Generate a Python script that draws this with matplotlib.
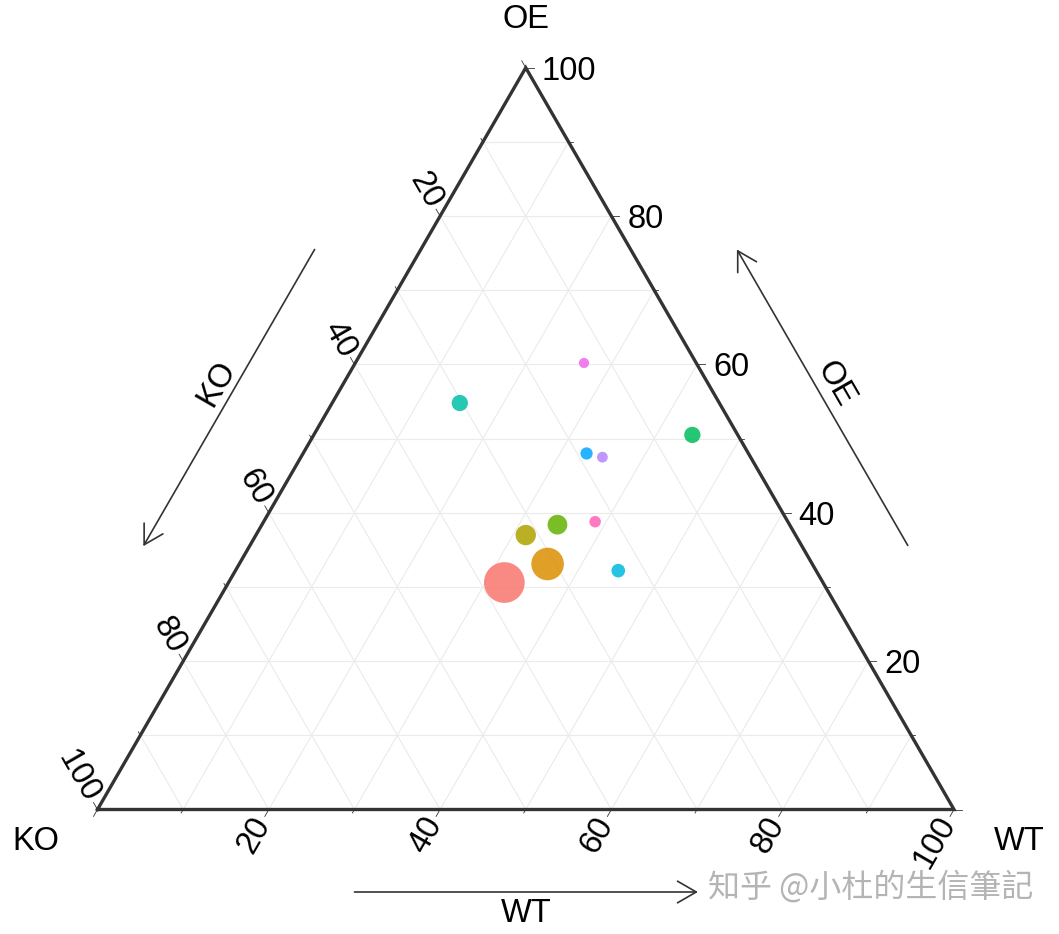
import numpy as np
import matplotlib
matplotlib.use("Agg")
import matplotlib.pyplot as plt

plt.rcParams['font.family'] = ['Liberation Sans', 'DejaVu Sans']

# ---------------- data ----------------
groups = ['G1', 'G2', 'G3', 'G4', 'G5', 'G6', 'G7', 'G8', 'G9', 'G10', 'G11']
wt_vals = [32.2, 36.0, 31.5, 34.5, 44.2, 14.9, 44.7, 33.1, 35.2, 26.7, 38.7]
oe_vals = [30.6, 33.1, 37.0, 38.4, 50.5, 54.8, 32.2, 48.0, 47.5, 60.2, 38.8]
ko_vals = [37.2, 30.9, 31.5, 27.1, 5.3, 30.3, 23.1, 18.9, 17.3, 13.1, 22.5]
abundance = [400, 256, 100, 94, 64, 64, 45, 36, 28, 25, 32]
colors = ['#F8766D', '#DB8E00', '#AEA200', '#64B200', '#00BD5C', '#00C1A7',
          '#00BADE', '#00A6FF', '#B385FF', '#EF67EB', '#FF63B6']
tick_vals = [20, 40, 60, 80, 100]
axis_names = {'left': 'KO', 'right': 'WT', 'top': 'OE'}

# ---------------- geometry ----------------
W, H = 1059, 934
X0, Y0, SCALE = 97.5, 809.5, 856.5   # pixel position of KO vertex and edge length
PX = 1.0 / SCALE
S3 = np.sqrt(3) / 2


def tern(wt, oe, ko):
    wt = np.asarray(wt, float)
    oe = np.asarray(oe, float)
    ko = np.asarray(ko, float)
    tot = wt + oe + ko
    wt, oe = wt / tot, oe / tot
    return wt + oe / 2, oe * S3


fig = plt.figure(figsize=(W / 100, H / 100), dpi=100)
ax = fig.add_axes([0, 0, 1, 1])
ax.set_xlim(-X0 / SCALE, (W - X0) / SCALE)
ax.set_ylim((Y0 - H) / SCALE, Y0 / SCALE)
ax.axis('off')

grid_c = '#EBEBEB'
for v in np.arange(10, 100, 10):
    f = v / 100
    x, y = tern([0, 1 - f], [f, f], [1 - f, 0])
    ax.plot(x, y, color=grid_c, lw=0.8, zorder=1)
    x, y = tern([f, f], [0, 1 - f], [1 - f, 0])
    ax.plot(x, y, color=grid_c, lw=0.8, zorder=1)
    x, y = tern([1 - f, 0], [0, 1 - f], [f, f])
    ax.plot(x, y, color=grid_c, lw=0.8, zorder=1)

# triangle border
bx, by = tern([0, 1, 0, 0], [0, 0, 1, 0], [1, 0, 0, 1])
ax.plot(bx, by, color='#333333', lw=2.4, zorder=3, solid_joinstyle='miter')

# ticks and tick labels
d_wt = np.array([-0.5, -S3])   # down-left
d_oe = np.array([1.0, 0.0])    # right
d_ko = np.array([-0.5, S3])    # up-left
fs = 23.5
for v in range(0, 101, 10):
    f = v / 100
    L = (8 if v % 20 == 0 else 4) * PX
    px_, py_ = tern(f, 0, 1 - f)
    ax.plot([px_, px_ + L * d_wt[0]], [py_, py_ + L * d_wt[1]], color='#333333', lw=0.6, zorder=2)
    qx, qy = tern(1 - f, f, 0)
    ax.plot([qx, qx + L * d_oe[0]], [qy, qy + L * d_oe[1]], color='#333333', lw=0.6, zorder=2)
    rx, ry = tern(0, 1 - f, f)
    ax.plot([rx, rx + L * d_ko[0]], [ry, ry + L * d_ko[1]], color='#333333', lw=0.6, zorder=2)

for v in tick_vals:
    f = v / 100
    px_, py_ = tern(f, 0, 1 - f)
    ax.text(px_ + 11 * PX * d_wt[0], py_ + 11 * PX * d_wt[1], str(v), rotation=60,
            ha='right', va='center', rotation_mode='anchor', fontsize=fs, color='black')
    qx, qy = tern(1 - f, f, 0)
    ax.text(qx + 16 * PX, qy, str(v), ha='left', va='center_baseline', fontsize=fs, color='black')
    rx, ry = tern(0, 1 - f, f)
    ax.text(rx + 11 * PX * d_ko[0], ry + 11 * PX * d_ko[1], str(v), rotation=-60,
            ha='right', va='center', rotation_mode='anchor', fontsize=fs, color='black')

# vertex labels
tx, ty = tern(0, 1, 0)
ax.text(tx, ty + 52 * PX, axis_names['top'], ha='center', va='center_baseline', fontsize=fs)
kx, ky = tern(0, 0, 1)
ax.text(kx - 62 * PX, ky - 28 * PX, axis_names['left'], ha='center', va='center_baseline', fontsize=fs)
wx, wy = tern(1, 0, 0)
ax.text(wx + 65 * PX, wy - 28 * PX, axis_names['right'], ha='center', va='center_baseline', fontsize=fs)

# direction arrows
arrow_kw = dict(arrowstyle='->,head_length=0.45,head_width=0.26', color='#333333',
                lw=1.2, shrinkA=0, shrinkB=0, mutation_scale=30)
off_side = 92 * PX
off_bot = 82.5 * PX
lab_gap = 18 * PX
# KO arrow (left side), pointing toward KO vertex
n_left = np.array([-S3, 0.5])
s = np.array(tern(0, 1 - 0.307, 0.307)) + off_side * n_left
e = np.array(tern(0, 1 - 0.707, 0.707)) + off_side * n_left
ax.annotate('', xy=e, xytext=s, arrowprops=arrow_kw, zorder=2)
m = np.array(tern(0, 0.5, 0.5)) + (off_side + lab_gap) * n_left
ax.text(m[0], m[1], axis_names['left'], rotation=60, ha='center', va='center', fontsize=fs)
# OE arrow (right side), pointing toward OE vertex
n_right = np.array([S3, 0.5])
s = np.array(tern(1 - 0.294, 0.294, 0)) + off_side * n_right
e = np.array(tern(1 - 0.693, 0.693, 0)) + off_side * n_right
ax.annotate('', xy=e, xytext=s, arrowprops=arrow_kw, zorder=2)
m = np.array(tern(0.5, 0.5, 0)) + (off_side + lab_gap) * n_right
ax.text(m[0], m[1], axis_names['top'], rotation=-60, ha='center', va='center', fontsize=fs)
# WT arrow (bottom), pointing toward WT vertex
n_bot = np.array([0.0, -1.0])
s = np.array(tern(0.3, 0, 0.7)) + off_bot * n_bot
e = np.array(tern(0.701, 0, 0.299)) + off_bot * n_bot
ax.annotate('', xy=e, xytext=s, arrowprops=arrow_kw, zorder=2)
m = np.array(tern(0.5, 0, 0.5)) + (off_bot + lab_gap) * n_bot
ax.text(m[0], m[1], axis_names['right'], ha='center', va='center_baseline', fontsize=fs)

# points
x, y = tern(wt_vals, oe_vals, ko_vals)
sizes = 2.15 * np.asarray(abundance, float)
ax.scatter(x, y, s=sizes, c=colors, alpha=0.85, linewidths=0, zorder=4)

# watermark
ax.text((708 - X0) / SCALE, (Y0 - 887) / SCALE, '知乎 @小杜的生信筆記', ha='left', va='center',
        fontsize=23, color='#B4B4B4', family=['Noto Sans CJK SC', 'DejaVu Sans'], zorder=5)

fig.savefig('out.png', dpi=100)
